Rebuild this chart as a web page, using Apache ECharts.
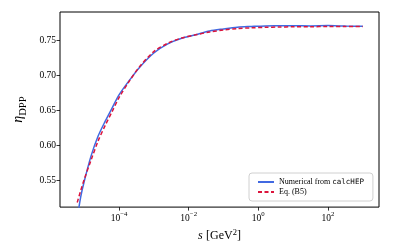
<!DOCTYPE html>
<html><head><meta charset="utf-8">
<script src="https://cdn.jsdelivr.net/npm/echarts@6/dist/echarts.min.js"></script>
<style>html,body{margin:0;padding:0;background:#fff}#c{width:399px;height:247px}</style>
</head><body><div id="c"></div>
<script>
// log10(s) sample points
const logS = [-5.2, -5.1, -5.0, -4.8, -4.6, -4.4, -4.2, -4.0, -3.7, -3.4, -3.0, -2.6, -2.2, -1.8, -1.4, -1.0, -0.6, -0.2, 0.2, 0.6, 1.0, 1.5, 2.0, 2.5, 3.0];
const numerical = [0.495, 0.526, 0.548, 0.585, 0.613, 0.634, 0.653, 0.672, 0.693, 0.712, 0.732, 0.745, 0.753, 0.758, 0.7635, 0.7665, 0.769, 0.770, 0.7708, 0.7709, 0.771, 0.7708, 0.7712, 0.7705, 0.7703];
const eqB5 = [0.518, 0.535, 0.551, 0.579, 0.606, 0.628, 0.648, 0.668, 0.692, 0.713, 0.734, 0.746, 0.7535, 0.758, 0.762, 0.765, 0.767, 0.768, 0.7688, 0.7692, 0.7695, 0.7697, 0.7698, 0.7698, 0.7698];
const xTicks = [-4, -2, 0, 2];
const yTicks = [0.55, 0.60, 0.65, 0.70, 0.75];
const seriesNames = ['Numerical from calcHEP', 'Eq. (B5)'];

const serif = '"Liberation Serif", "DejaVu Serif", serif';
const chart = echarts.init(document.getElementById('c'), null, {renderer: 'canvas'});
chart.setOption({
  animation: false,
  backgroundColor: '#fff',
  grid: {left: 60, right: 20, top: 12, bottom: 38, show: true, borderColor: '#000', borderWidth: 1, backgroundColor: 'transparent'},
  legend: {
    orient: 'vertical', left: 249, top: 173,
    itemWidth: 16, itemHeight: 8, itemGap: 2,
    padding: [5, 9, 5, 8],
    backgroundColor: '#fff', borderColor: '#d0d0d0', borderWidth: 1, borderRadius: 3,
    itemStyle: {opacity: 0},
    data: seriesNames,
    formatter: function (n) { return n === seriesNames[0] ? '{a|Numerical from }{m|calcHEP}' : '{a|' + n + '}'; },
    textStyle: {
      fontFamily: serif, fontSize: 8, color: '#000',
      rich: {
        a: {fontFamily: serif, fontSize: 8, color: '#000'},
        m: {fontFamily: '"DejaVu Sans Mono", "Liberation Mono", monospace', fontSize: 7.5, color: '#000'}
      }
    }
  },
  xAxis: {
    type: 'value', min: -5.695, max: 3.466,
    name: '{i|s} {r|[GeV}{sup|2}{r|]}', nameLocation: 'middle', nameGap: 17,
    nameTextStyle: {
      rich: {
        i: {fontFamily: serif, fontStyle: 'italic', fontSize: 12, color: '#000', verticalAlign: 'bottom', lineHeight: 14},
        r: {fontFamily: serif, fontSize: 12, color: '#000', verticalAlign: 'bottom', lineHeight: 14},
        sup: {fontFamily: serif, fontSize: 8.5, color: '#000', verticalAlign: 'top', lineHeight: 14}
      }
    },
    splitLine: {show: false},
    axisLine: {show: false, onZero: false},
    axisTick: {show: true, length: 3.5, inside: false, lineStyle: {color: '#000', width: 0.8}, customValues: xTicks},
    axisLabel: {
      margin: 4, customValues: xTicks,
      formatter: function (v) { return '{b|10}{sup|' + (v < 0 ? '\u2212' : '') + Math.abs(v) + '}'; },
      rich: {
        b: {fontFamily: serif, fontSize: 9.5, color: '#000', verticalAlign: 'bottom', lineHeight: 12},
        sup: {fontFamily: serif, fontSize: 6.8, color: '#000', verticalAlign: 'top', lineHeight: 12}
      }
    }
  },
  yAxis: {
    type: 'value', min: 0.5113, max: 0.7907,
    name: '{i|\u03b7}{s|DPP}', nameLocation: 'middle', nameGap: 23, nameRotate: 90,
    nameTextStyle: {
      rich: {
        i: {fontFamily: serif, fontStyle: 'italic', fontSize: 14, color: '#000', verticalAlign: 'top', lineHeight: 17},
        s: {fontFamily: serif, fontSize: 10.5, color: '#000', verticalAlign: 'bottom', lineHeight: 17}
      }
    },
    splitLine: {show: false},
    axisLine: {show: false, onZero: false},
    axisTick: {show: true, length: 3.5, inside: false, lineStyle: {color: '#000', width: 0.8}, customValues: yTicks},
    axisLabel: {
      margin: 4, customValues: yTicks, fontFamily: serif, fontSize: 9.5, color: '#000',
      formatter: function (v) { return v.toFixed(2); }
    }
  },
  series: [
    {
      name: seriesNames[0], type: 'line', symbol: 'none', smooth: 0.3, clip: true,
      data: logS.map((x, i) => [x, numerical[i]]),
      lineStyle: {color: '#4169e1', width: 1.5},
      itemStyle: {color: '#4169e1'}, z: 2
    },
    {
      name: seriesNames[1], type: 'line', symbol: 'none', smooth: 0.3, clip: true,
      data: logS.map((x, i) => [x, eqB5[i]]),
      lineStyle: {color: '#dc143c', width: 1.5, type: [4, 2.5]},
      itemStyle: {color: '#dc143c'}, z: 3
    }
  ]
});
</script></body></html>
